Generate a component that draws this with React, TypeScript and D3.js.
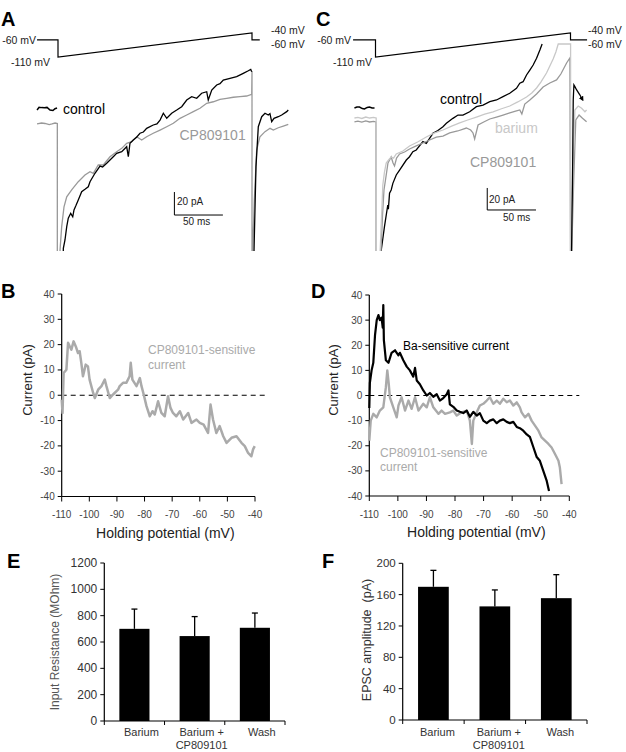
import React from 'react';
import * as d3 from 'd3';

type Pt = [number, number];

const FONT = 'Liberation Sans, Arial, Helvetica, sans-serif';

// ---------- A / C : voltage command (ms, mV) ----------
const stepA: Pt[] = [[-21.6, -60], [0, -60], [0, -110], [200, -40], [200, -60], [208, -60]];
const stepC: Pt[] = [[-23, -60], [0, -60], [0, -110], [200, -40], [200, -60], [217, -60]];

// ---------- A : ramp currents (ms, pA) ----------
const ctrlPreA: Pt[] = [[-21.6, -0.9], [-19.5, 1.5], [-17, 1.2], [-14, 1.0], [-11.3, 1.4], [-8.2, -0.9], [-5.2, -1.3], [-3.1, 0.2], [-1.0, 0.9]];
const ctrlRampA: Pt[] = [[5.3, -140], [5.5, -121.1], [7.2, -113.9], [9.0, -102.3], [10.6, -95.0], [13.1, -90.7], [15.2, -93.7], [16.5, -87.8], [18.5, -84], [20.9, -79.1], [24.4, -71.9], [27.8, -69.8], [31.2, -67.6], [33.0, -63.2], [38.1, -55.9], [43.3, -49.6], [46, -50.5], [50.2, -47.2], [57.0, -41.5], [60.5, -38.5], [65.7, -37.1], [70.8, -32.8], [72.5, -41.5], [74.2, -29.8], [77.6, -27.0], [81, -24.5], [84.5, -21.1], [88, -20], [91.4, -16.8], [98.2, -13.9], [102, -13], [105.2, -9.6], [108.6, -3.7], [112.1, -8.1], [117.2, -3.7], [122.4, -0.9], [127.5, 2.0], [132.7, 7.8], [137.8, 10.7], [143.0, 9.3], [148.1, 13.7], [153.3, 15.0], [154.9, 7.8], [158.5, 16.5], [163.6, 20.9], [167, 22], [170.4, 25.2], [177.3, 26.7], [184.2, 28.1], [191.0, 31.0], [196.2, 33.3], [198.7, 34.5], [199.7, 32.4]];
const ctrlPostA: Pt[] = [[201.8, -140], [202.1, -122.6], [204.1, -50.2], [206.5, -15.4], [210, -6.7], [213.4, -3.7], [216.8, -5.2], [218.5, -4], [220.3, -11.0], [222.7, -8.1], [227.1, -6.7], [230.6, -5.2], [235.8, -2.3], [237.4, -0.9]];
const cpA: Pt[] = [[-21.6, -13.0], [-17, -12.2], [-13.4, -12.6], [-9, -13.5], [-6.2, -13.0], [-3, -12.2], [-0.7, -12.6], [-0.7, -140], [1.8, -140], [2.1, -122.6], [3.8, -102.3], [6.2, -85.0], [9.0, -76.3], [14.1, -70.4], [20.9, -63.2], [27.8, -57.4], [33.0, -54.5], [36.4, -55.9], [41.5, -48.7], [46.7, -48.7], [53.6, -41.5], [60.5, -37.1], [65.7, -34.2], [70.8, -29.8], [76.0, -28.4], [81.1, -24.1], [86.3, -27.0], [91.4, -24.1], [98.2, -21.1], [105.2, -18.3], [112.1, -15.4], [118.9, -12.4], [125.8, -8.1], [132.7, -5.2], [139.5, -2.3], [146.4, 0.6], [153.3, 5.0], [160.1, 6.3], [167.0, 8.4], [173.9, 9.3], [180.7, 10.2], [187.6, 10.7], [194.5, 11.3], [199.7, 12.8], [200, 33], [200, -140], [200.7, -140], [200.7, -122.6], [202.4, -79.1], [204.8, -35.7], [208.2, -24.1], [213.4, -19.7], [218.6, -16.8], [222, -18.3], [227.1, -16.3], [232.3, -14.8], [237.4, -13.3]];

// ---------- C : ramp currents (ms, pA) ----------
const ctrlPreC: Pt[] = [[-21.6, 0], [-19, 0.9], [-16.4, 0.9], [-13.5, -0.5], [-11.3, -0.9], [-8.5, 0.5], [-6.2, 0.9], [-3.5, 0], [-1.0, 0]];
const ctrlRampC: Pt[] = [[5.6, -140], [5.9, -129.1], [9.2, -107.9], [12.6, -88.2], [13.2, -92], [14.4, -77.5], [16.1, -74.5], [17.8, -68.5], [21.3, -60.9], [24.7, -56.4], [31.6, -47.3], [34.9, -44.3], [38.3, -39.7], [41.8, -38.2], [48.6, -30.6], [52.1, -32.1], [58.9, -23.0], [64, -20.5], [69.2, -17.0], [72.7, -13.9], [79.4, -9.4], [84.6, -6.4], [89.7, -6.4], [96.6, -3.4], [103.5, 1.2], [110.3, 2.7], [117.2, 5.7], [124.1, 7.3], [130.8, 10.3], [137.7, 13.4], [144.6, 17.9], [148.0, 22.5], [151.4, 23.9], [154.9, 30.0], [158.3, 34.5], [161.7, 39.1], [165.2, 45.2], [168.6, 52.7], [170.9, 58.2]];
const ctrlPostC: Pt[] = [[201.0, -140], [201.1, -129.1], [202.2, -53.4], [202.8, 7.3], [203.5, 20.9], [204.5, 19.4], [206.3, 16.4], [209.7, 11.8], [212.5, 7.3]];
const bariumC: Pt[] = [[-21.6, -9.1], [-18, -8.6], [-14, -9.5], [-10, -8.2], [-6, -9.1], [-2, -8.6], [0.7, -9.1], [0.7, -140], [4.6, -140], [4.8, -129.1], [6.7, -88.2], [7.5, -70.0], [9.2, -58.2], [11.0, -50.0], [13.4, -47.3], [16.1, -44.5], [18.5, -45.5], [21.3, -41.8], [28.1, -39.1], [34.9, -34.5], [43.2, -30.9], [52.1, -26.4], [60.6, -22.7], [69.2, -20.0], [78.1, -16.4], [86.3, -13.6], [94.6, -10.9], [103.5, -8.2], [112.0, -5.5], [120.6, -3.6], [128.5, -0.9], [137.7, 1.8], [145.9, 5.5], [154.9, 10.0], [160.3, 13.6], [165.2, 18.2], [169.6, 23.6], [175.4, 31.8], [178.8, 38.2], [182.2, 44.5], [185.0, 50.9], [187.4, 58.2], [199.4, 58.2], [200.1, 58.2], [200.1, -140], [200.9, -140], [200.9, -129.1], [202.5, -56.4], [204.5, -1.8], [207.9, 1.8], [211.4, -0.3], [214.8, -3.4], [216.5, -1.8]];
const cpC: Pt[] = [[-21.6, -12.7], [-18, -12.0], [-14, -12.9], [-10, -11.8], [-6, -12.7], [-2, -12.2], [0.5, -12.7], [0.5, -140], [5.5, -140], [5.7, -129.1], [7.2, -97.3], [8.7, -74.5], [11.0, -60.9], [12.8, -50.0], [16.1, -44.5], [18.0, -50.0], [19.5, -52.7], [21.6, -45.5], [24.7, -41.8], [29.8, -40.0], [34.9, -37.3], [41.8, -34.5], [48.6, -31.8], [55.5, -29.1], [62.4, -26.4], [69.2, -25.5], [76.1, -22.7], [84.3, -20.9], [93.2, -18.2], [97.6, -20.0], [100.0, -22.7], [101.7, -28.2], [105.2, -15.5], [111.0, -12.7], [117.2, -10.0], [124.1, -8.2], [130.8, -6.4], [137.7, -4.5], [144.6, -2.7], [148.0, -1.8], [150.1, -5.5], [153.1, 3.6], [158.3, 7.3], [165.2, 12.7], [171.9, 19.1], [178.8, 22.7], [185.7, 25.5], [190.1, 30.9], [196.0, 40.9], [199.4, 45.5], [200, -140], [201.3, -140], [201.3, -129.1], [203.3, -65.5], [205.4, -10.9], [208.8, -6.4], [212.3, -9.4], [216.5, -12.5]];

// ---------- B : CP809101-sensitive current (mV, pA) ----------
const cpSensB: Pt[] = [[-110.0, -1.7], [-109.7, -7.0], [-109.3, 8.8], [-108.3, 10.1], [-107.7, 20.7], [-107.1, 19.3], [-106.5, 18.0], [-105.7, 21.3], [-104.9, 19.3], [-104.1, 16.7], [-103.5, 17.4], [-102.9, 12.8], [-102.3, 7.5], [-101.3, 12.1], [-100.5, 11.4], [-99.9, 6.2], [-98.6, 0.9], [-98.0, -1.1], [-96.8, 2.2], [-95.6, 3.6], [-94.4, 6.2], [-93.8, 3.6], [-92.6, -1.1], [-91.4, 0.3], [-89.6, 2.2], [-89.0, 3.6], [-87.8, 4.9], [-86.6, 4.9], [-85.4, 7.5], [-85.0, 12.8], [-84.4, 6.2], [-82.9, 3.6], [-81.7, 6.8], [-81.1, 3.6], [-80.3, 0.3], [-79.3, -4.3], [-78.1, -8.3], [-77.1, -6.3], [-76.3, -7.6], [-75.1, -2.4], [-73.9, -7.0], [-72.7, -8.3], [-71.5, -0.4], [-70.6, -5.0], [-69.7, -7.0], [-68.5, -8.3], [-67.2, -6.3], [-66.0, -9.6], [-64.2, -7.0], [-63.0, -10.9], [-61.2, -9.6], [-60.0, -10.9], [-58.6, -11.6], [-57.0, -14.9], [-56.1, -3.7], [-55.2, -9.6], [-54.0, -14.9], [-52.8, -12.2], [-51.5, -16.2], [-50.3, -18.8], [-48.5, -16.8], [-46.7, -16.2], [-44.9, -18.8], [-43.7, -20.1], [-42.5, -22.8], [-41.3, -24.1], [-40.7, -21.4], [-40.1, -20.1]];

// ---------- D : Ba- and CP809101-sensitive currents (mV, pA) ----------
const baSensD: Pt[] = [[-110, -5], [-109.8, 5], [-109.2, 10], [-108.6, 13], [-108.0, 24], [-107.4, 30], [-106.8, 32], [-106.3, 30], [-105.7, 31], [-105.3, 27], [-105.1, 36], [-104.9, 22], [-104.2, 14], [-103.3, 13], [-102.2, 17], [-101.0, 18], [-99.8, 16], [-99.3, 17], [-98.1, 14], [-96.9, 11.5], [-95.8, 10], [-94.6, 7.5], [-94.0, 11], [-93.4, 6], [-92.3, 4.5], [-91.1, 2], [-89.9, 0], [-88.8, 1], [-87.6, -0.5], [-86.4, 0.5], [-85.3, -2], [-84.1, -1], [-82.9, 0.5], [-82.3, 2], [-81.8, -3.5], [-80.6, -4.5], [-79.4, -6], [-78.3, -6.5], [-77.1, -7], [-75.9, -6], [-74.8, -8.5], [-73.6, -6.5], [-72.4, -8], [-71.3, -7], [-70.1, -10], [-68.9, -11], [-67.8, -10], [-66.6, -9.5], [-65.4, -11], [-64.3, -10], [-63.1, -9.5], [-61.9, -10.5], [-60.8, -11], [-59.6, -10.5], [-58.4, -12.5], [-57.3, -13], [-56.1, -14], [-54.9, -15.5], [-53.8, -16.5], [-52.6, -20.5], [-51.4, -24.5], [-50.3, -26], [-49.1, -30], [-47.9, -34], [-47.1, -38]];
const cpSensD: Pt[] = [[-110, -18], [-109.5, -10], [-108.6, -7.3], [-107.4, -8.7], [-106.3, -6], [-105.1, -4.7], [-104.2, 3.3], [-103.7, 10], [-103.2, 4.7], [-102.8, -0.7], [-101.6, -4.7], [-100.4, -8.7], [-99.8, -4], [-98.7, -0.7], [-97.5, -6], [-96.3, -2], [-95.2, -5.3], [-94.0, -0.7], [-92.8, -6], [-91.1, -3.3], [-89.9, -4.7], [-88.8, -0.7], [-87.6, -4.7], [-85.8, -7.3], [-84.7, -6], [-83.5, -7.3], [-81.8, -6.7], [-80.6, -6], [-79.4, -8], [-77.7, -6.7], [-75.9, -6], [-74.8, -10], [-74.4, -15.3], [-74.1, -19.3], [-73.6, -10], [-72.4, -6.7], [-71.3, -4], [-70.1, -3.3], [-68.9, -2], [-67.8, -0.7], [-66.6, -3.3], [-65.4, -2], [-64.3, -3.3], [-63.1, -1.3], [-61.9, -2.7], [-60.8, -2], [-59.6, -4], [-58.4, -2.7], [-57.3, -4.7], [-56.7, -6.7], [-55.5, -8.7], [-54.3, -7.3], [-53.2, -10], [-52.0, -12], [-50.8, -14], [-49.7, -16.7], [-48.5, -18], [-47.3, -19.3], [-46.2, -20.7], [-45.0, -23.3], [-43.8, -26], [-43.3, -28.7], [-42.7, -35.3]];

// ---------- E / F : bar charts ----------
const groups = ['Barium', 'Barium + CP809101', 'Wash'];
const groupLines = [['Barium'], ['Barium +', 'CP809101'], ['Wash']];
const resistance = [700, 645, 708];
const resistanceErr = [150, 148, 112];
const epsc = [170, 145, 155.5];
const epscErr = [21, 21, 30];

const makeLine = (x: d3.ScaleLinear<number, number>, y: d3.ScaleLinear<number, number>) =>
  d3.line<Pt>().x(d => x(d[0])).y(d => y(d[1]));

const T = (p: any) => <text fontFamily={FONT} {...p} />;

const IVAxes = ({ x, y, ylabelX }: any) => {
  const x0 = x(-110);
  const yb = y(-40);
  const xTicks = d3.range(-110, -39, 10);
  return (
    <g>
      <line x1={x0} x2={x0} y1={y(40)} y2={yb} stroke="#000" strokeWidth={1.2} />
      <line x1={x0} x2={x(-40)} y1={yb} y2={yb} stroke="#000" strokeWidth={1.2} />
      {y.ticks(8).map((t: number) => (
        <g key={'y' + t}>
          <line x1={x0 - 4} x2={x0} y1={y(t)} y2={y(t)} stroke="#000" />
          <T x={x0 - 7} y={y(t) + 3.5} textAnchor="end" fontSize={10} fill="#444">{t}</T>
        </g>
      ))}
      {xTicks.map(t => (
        <g key={'x' + t}>
          <line x1={x(t)} x2={x(t)} y1={yb} y2={yb + 5} stroke="#000" />
          <T x={x(t)} y={yb + 21.5} textAnchor="middle" fontSize={10} fill="#444">{t}</T>
        </g>
      ))}
      <line x1={x0} x2={x(-40) + 10} y1={y(0)} y2={y(0)} stroke="#000" strokeWidth={1.2} strokeDasharray="5,4" />
      <T x={(x0 + x(-40)) / 2 + 7} y={yb + 41} textAnchor="middle" fontSize={14} fill="#222">Holding potential (mV)</T>
      <T transform={`translate(${ylabelX},380) rotate(-90)`} textAnchor="middle" fontSize={13} fill="#222">Current (pA)</T>
    </g>
  );
};

const BarPanel = ({ x0, x1, y, values, errs, tickStep, tickFont, labelDx, ylabel, ylabelX, ylabelY, ylabelFill, ylabelSize }: any) => {
  const xb = d3.scaleBand().domain(groups).range([x0, x1]).paddingInner(0.5).paddingOuter(0.25);
  const step = xb.step();
  const yb = y(0);
  const top = y.domain()[1];
  return (
    <g>
      <line x1={x0} x2={x0} y1={y(top)} y2={yb} stroke="#000" strokeWidth={1.2} />
      <line x1={x0} x2={x1} y1={yb} y2={yb} stroke="#000" strokeWidth={1.2} />
      {d3.range(0, top + 1, tickStep).map((t: number) => (
        <g key={'t' + t}>
          <line x1={x0 - 4} x2={x0} y1={y(t)} y2={y(t)} stroke="#000" />
          <T x={x0 - 7} y={y(t) + 4} textAnchor="end" fontSize={tickFont} fill="#333">{t}</T>
        </g>
      ))}
      {d3.range(0, 4).map(i => (
        <line key={'c' + i} x1={x0 + i * step} x2={x0 + i * step} y1={yb} y2={yb + 4} stroke="#000" />
      ))}
      {groups.map((g, i) => {
        const cx = (xb(g) as number) + xb.bandwidth() / 2;
        return (
          <g key={g}>
            <rect x={xb(g)} y={y(values[i])} width={xb.bandwidth()} height={yb - y(values[i])} fill="#000" />
            <line x1={cx} x2={cx} y1={y(values[i])} y2={y(values[i] + errs[i])} stroke="#000" strokeWidth={1.3} />
            <line x1={cx - 3} x2={cx + 3} y1={y(values[i] + errs[i])} y2={y(values[i] + errs[i])} stroke="#000" strokeWidth={1.3} />
            {groupLines[i].map((l, j) => (
              <T key={l} x={cx + labelDx} y={736 + j * 13} textAnchor="middle" fontSize={11} fill="#333">{l}</T>
            ))}
          </g>
        );
      })}
      <T transform={`translate(${ylabelX},${ylabelY}) rotate(-90)`} textAnchor="middle" fontSize={ylabelSize} fill={ylabelFill} style={{ whiteSpace: 'pre' }}>{ylabel}</T>
    </g>
  );
};

export default function App() {
  // A scales
  const xA = d3.scaleLinear().domain([0, 200]).range([58, 252]);
  const yA = d3.scaleLinear().domain([0, 20]).range([109, 86]);
  const vA = d3.scaleLinear().domain([-110, -40]).range([57, 33]);
  // C scales
  const xC = d3.scaleLinear().domain([0, 200]).range([375.5, 570.5]);
  const yC = d3.scaleLinear().domain([0, 20]).range([108, 86]);
  const vC = d3.scaleLinear().domain([-110, -40]).range([57, 33]);
  // B / D
  const xB = d3.scaleLinear().domain([-110, -40]).range([61.7, 255]);
  const yB = d3.scaleLinear().domain([-40, 40]).range([496.5, 294]);
  const xD = d3.scaleLinear().domain([-110, -40]).range([369.3, 569.3]);
  const yD = d3.scaleLinear().domain([-40, 40]).range([496, 295]);
  // E / F
  const yE = d3.scaleLinear().domain([0, 1200]).range([721, 563]);
  const yF = d3.scaleLinear().domain([0, 200]).range([720, 563.3]);

  const lA = makeLine(xA, yA), cmdA = makeLine(xA, vA);
  const lC = makeLine(xC, yC), cmdC = makeLine(xC, vC);
  const lB = makeLine(xB, yB), lD = makeLine(xD, yD);

  const scaleBar = (x: any, y: any, t0: number, i0: number) => (
    <path d={`M${x(t0)},${y(i0 + 20)}V${y(i0)}H${x(t0 + 50)}`} fill="none" stroke="#000" strokeWidth={1} />
  );

  const letter = (s: string, x: number, y: number) => (
    <T x={x} y={y} fontSize={20} fontWeight="bold" fill="#000">{s}</T>
  );

  return (
    <svg width={626} height={752} style={{ position: 'absolute', left: 0, top: 0, background: '#fff' }}>
      <defs>
        <clipPath id="clipA"><rect x={20} y={0} width={290} height={251} /></clipPath>
        <clipPath id="clipC"><rect x={335} y={0} width={291} height={251} /></clipPath>
        <marker id="arr" markerUnits="userSpaceOnUse" markerWidth={5} markerHeight={5} refX={3.5} refY={2.5} orient="auto">
          <path d="M0,0L5,2.5L0,5Z" fill="#000" />
        </marker>
      </defs>
      <rect width={626} height={752} fill="#fff" />

      {/* Panel A */}
      {letter('A', 1, 26)}
      <path d={cmdA(stepA) as string} fill="none" stroke="#000" strokeWidth={1.2} />
      <T x={36} y={43.5} textAnchor="end" fontSize={10.5} fill="#222">-60 mV</T>
      <T x={50} y={65.5} textAnchor="end" fontSize={10.5} fill="#222">-110 mV</T>
      <T x={271} y={33.5} fontSize={10.5} fill="#222">-40 mV</T>
      <T x={271} y={47.5} fontSize={10.5} fill="#222">-60 mV</T>
      <g clipPath="url(#clipA)">
        <path d={lA(cpA) as string} fill="none" stroke="#999" strokeWidth={1.3} />
        <path d={lA(ctrlPreA) as string} fill="none" stroke="#000" strokeWidth={1.5} />
        <path d={lA(ctrlRampA) as string} fill="none" stroke="#000" strokeWidth={1.3} />
        <path d={lA(ctrlPostA) as string} fill="none" stroke="#000" strokeWidth={1.3} />
      </g>
      <T x={63} y={114} fontSize={14} fill="#000">control</T>
      <T x={179.5} y={140} fontSize={14} fill="#999">CP809101</T>
      {scaleBar(xA, yA, 120, -92.2)}
      <T x={177} y={205} fontSize={10} fill="#222">20 pA</T>
      <T x={183} y={225} fontSize={10} fill="#222">50 ms</T>

      {/* Panel C */}
      {letter('C', 316, 26)}
      <path d={cmdC(stepC) as string} fill="none" stroke="#000" strokeWidth={1.2} />
      <T x={351} y={43.5} textAnchor="end" fontSize={10.5} fill="#222">-60 mV</T>
      <T x={372} y={65.5} textAnchor="end" fontSize={10.5} fill="#222">-110 mV</T>
      <T x={588} y={33.5} fontSize={10.5} fill="#222">-40 mV</T>
      <T x={588} y={47.5} fontSize={10.5} fill="#222">-60 mV</T>
      <g clipPath="url(#clipC)">
        <path d={lC(ctrlPreC) as string} fill="none" stroke="#000" strokeWidth={1.5} />
        <path d={lC(ctrlRampC) as string} fill="none" stroke="#000" strokeWidth={1.3} />
        <path d={lC(cpC) as string} fill="none" stroke="#999" strokeWidth={1.3} />
        <path d={lC(bariumC) as string} fill="none" stroke="#c8c8c8" strokeWidth={1.3} />
        <path d={lC(ctrlPostC) as string} fill="none" stroke="#000" strokeWidth={1.3} markerEnd="url(#arr)" />
      </g>
      <T x={440} y={103.5} fontSize={14} fill="#000">control</T>
      <T x={495} y={133} fontSize={14} fill="#c8c8c8">barium</T>
      <T x={470} y={167} fontSize={14} fill="#999">CP809101</T>
      {scaleBar(xC, yC, 114.6, -92.7)}
      <T x={489} y={203} fontSize={10} fill="#222">20 pA</T>
      <T x={503} y={221} fontSize={10} fill="#222">50 ms</T>

      {/* Panel B */}
      {letter('B', 1, 298)}
      <IVAxes x={xB} y={yB} ylabelX={32} />
      <path d={lB(cpSensB) as string} fill="none" stroke="#aaa" strokeWidth={2.5} strokeLinejoin="round" />
      <T x={148} y={354} fontSize={12} fill="#aaa">CP809101-sensitive</T>
      <T x={148} y={368.5} fontSize={12} fill="#aaa">current</T>

      {/* Panel D */}
      {letter('D', 311, 298)}
      <IVAxes x={xD} y={yD} ylabelX={338} />
      <path d={lD(cpSensD) as string} fill="none" stroke="#aaa" strokeWidth={2.4} strokeLinejoin="round" />
      <path d={lD(baSensD) as string} fill="none" stroke="#000" strokeWidth={2.2} strokeLinejoin="round" />
      <T x={403} y={350} fontSize={12} fill="#000">Ba-sensitive current</T>
      <T x={380} y={457} fontSize={12} fill="#aaa">CP809101-sensitive</T>
      <T x={380} y={471} fontSize={12} fill="#aaa">current</T>

      {/* Panel E */}
      {letter('E', 7, 568)}
      <BarPanel x0={104.3} x1={285} y={yE} values={resistance} errs={resistanceErr} tickStep={200} tickFont={12}
        labelDx={7} ylabel="Input Resistance (MOhm)" ylabelX={59} ylabelY={642} ylabelFill="#555" ylabelSize={12} />

      {/* Panel F */}
      {letter('F', 322, 568)}
      <BarPanel x0={402.7} x1={587} y={yF} values={epsc} errs={epscErr} tickStep={40} tickFont={11.5}
        labelDx={4} ylabel="EPSC amplitude  (pA)" ylabelX={371} ylabelY={640} ylabelFill="#333" ylabelSize={12.5} />
    </svg>
  );
}
